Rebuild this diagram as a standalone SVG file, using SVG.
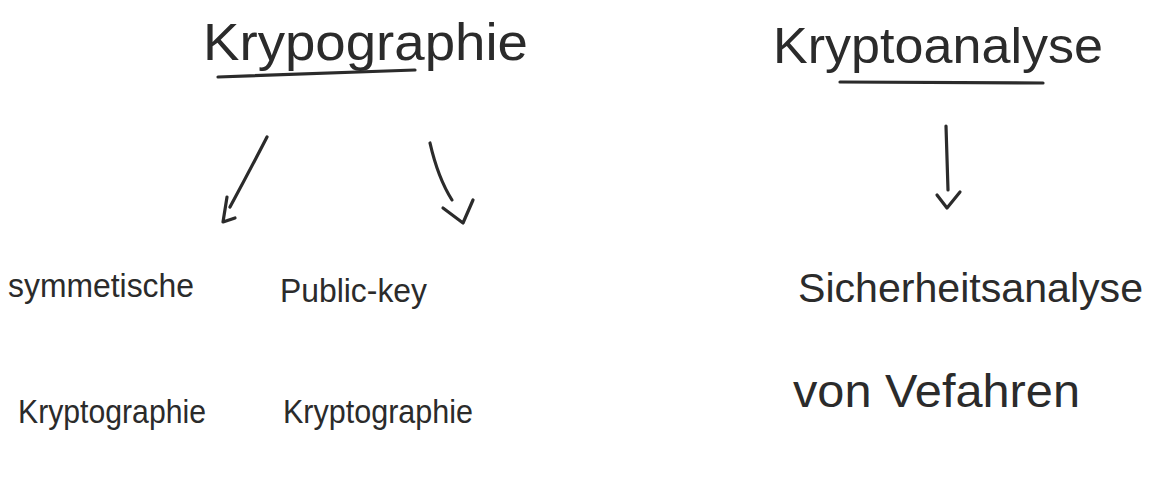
<svg xmlns="http://www.w3.org/2000/svg" width="1152" height="481" viewBox="0 0 1152 481">
<style>
.t{font-family:"Liberation Sans","DejaVu Sans",sans-serif;fill:#2b2b2b;font-weight:normal}
.ln{fill:none;stroke:#2b2b2b;stroke-width:3.2;stroke-linecap:round;stroke-linejoin:round}
</style>
<rect width="1152" height="481" fill="#ffffff"/>
<g id="node-krypographie">
<text class="t" x="203" y="60" font-size="52" textLength="325" lengthAdjust="spacingAndGlyphs">Krypographie</text>
<path class="ln" d="M218 77 L415 70"/>
</g>
<g id="node-kryptoanalyse">
<text class="t" x="773" y="63" font-size="50" textLength="330" lengthAdjust="spacingAndGlyphs">Kryptoanalyse</text>
<path class="ln" d="M840 82 L1043 83"/>
</g>
<g id="node-symmetrisch">
<text class="t" x="8" y="297" font-size="34" textLength="186" lengthAdjust="spacingAndGlyphs">symmetische</text>
<text class="t" x="18" y="423" font-size="34" textLength="188" lengthAdjust="spacingAndGlyphs">Kryptographie</text>
</g>
<g id="node-publickey">
<text class="t" x="280" y="302" font-size="34" textLength="147" lengthAdjust="spacingAndGlyphs">Public-key</text>
<text class="t" x="283" y="423" font-size="34" textLength="190" lengthAdjust="spacingAndGlyphs">Kryptographie</text>
</g>
<g id="node-sicherheitsanalyse">
<text class="t" x="798" y="302" font-size="41" textLength="345" lengthAdjust="spacingAndGlyphs">Sicherheitsanalyse</text>
<text class="t" x="793" y="407" font-size="46" textLength="287" lengthAdjust="spacingAndGlyphs">von Vefahren</text>
</g>
<g id="connectors">
<path class="ln" d="M267 137 Q250 170 230 207"/>
<path class="ln" d="M227 197 L223 222 L235 218"/>
<path class="ln" d="M430 143 Q438 178 452 200"/>
<path class="ln" d="M443 208 L463 223 L473 200"/>
<path class="ln" d="M946 126 Q947 160 948 190"/>
<path class="ln" d="M937 195 L947 208 L960 192"/>
</g>
</svg>
